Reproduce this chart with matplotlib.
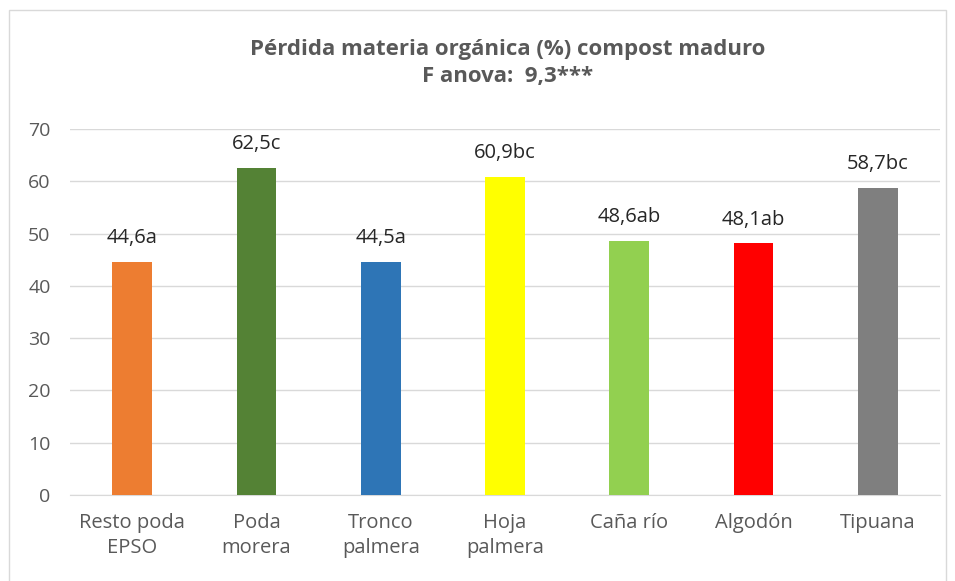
import matplotlib.pyplot as plt
from matplotlib.patches import Rectangle

# ----------------------------------------------------------------------
# Data
# ----------------------------------------------------------------------
categories = ["Resto poda\nEPSO", "Poda\nmorera", "Tronco\npalmera", "Hoja\npalmera",
              "Caña río", "Algodón", "Tipuana"]
values = [44.6, 62.5, 44.5, 60.9, 48.6, 48.1, 58.7]
labels = ["44,6a", "62,5c", "44,5a", "60,9bc", "48,6ab", "48,1ab", "58,7bc"]
colors = ["#ED7D31", "#548235", "#2E75B6", "#FFFF00", "#92D050", "#FF0000", "#7F7F7F"]

plt.rcParams["font.family"] = ["Open Sans", "DejaVu Sans"]

fig = plt.figure(figsize=(9.55, 5.81), dpi=100)
ax = fig.add_axes([0.0733, 0.148, 0.911, 0.630])

x = range(len(categories))
ax.bar(x, values, width=0.32, color=colors, zorder=3)

for xi, v, lab in zip(x, values, labels):
    ax.annotate(lab, (xi, v), xytext=(0, 10), textcoords="offset points",
                ha="center", va="bottom", fontsize=14.5, color="#262626")

ax.set_xlim(-0.5, len(categories) - 0.5)
ax.set_ylim(0, 70)
ax.set_yticks(range(0, 71, 10))
ax.set_xticks(list(x))
ax.set_xticklabels(categories, fontsize=14.5, color="#595959", linespacing=1.3)
ax.tick_params(axis="y", labelsize=14, labelcolor="#595959", length=0, pad=14)
ax.tick_params(axis="x", length=0, pad=13)
ax.grid(True, axis="y", color="#D9D9D9", linewidth=1, zorder=0)
for s in ["top", "right", "left"]:
    ax.spines[s].set_visible(False)
ax.spines["bottom"].set_color("#D9D9D9")

fig.text(0.532, 0.915, "Pérdida materia orgánica (%) compost maduro",
         ha="center", va="center", fontsize=16, fontweight="bold", color="#595959")
fig.text(0.532, 0.868, "F anova:  9,3***",
         ha="center", va="center", fontsize=16, fontweight="bold", color="#595959")

# chart frame
fig.patches.append(Rectangle((9 / 955, -0.01), 937 / 955, 1 - 10 / 581 + 0.01,
                             transform=fig.transFigure, fill=False,
                             edgecolor="#D9D9D9", linewidth=1))

plt.savefig("out.png", dpi=100)
